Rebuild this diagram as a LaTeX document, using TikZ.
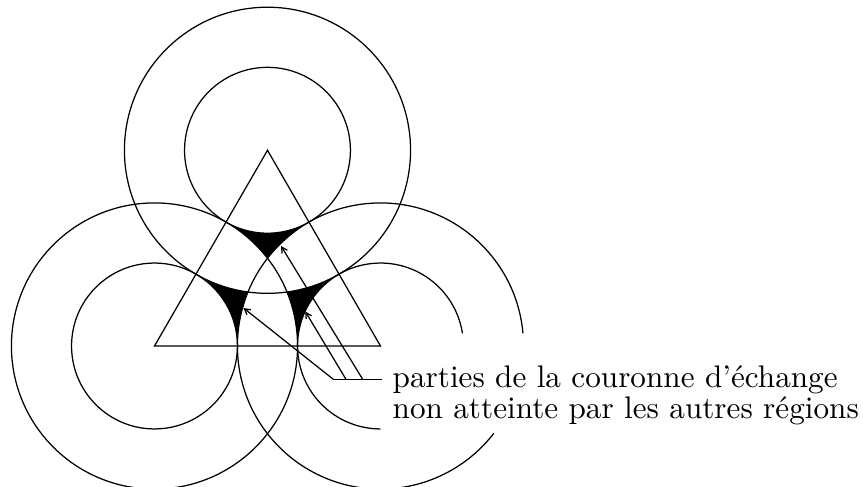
\documentclass[tikz,border=0pt]{standalone}
\usepackage{tikz}
\usetikzlibrary{arrows.meta,calc}

\newcommand\rinner{0.367}
\newcommand\router{0.633}

\begin{document}
\begin{tikzpicture}[x=2.546cm,y=2.546cm,line width=0.4pt,>={Straight Barb[length=1.8pt,width=2pt]},
  zone/.style={fill=black},
  lead/.style={->},
  legend/.style={anchor=north west,align=left,font=\fontsize{10}{9.9}\selectfont}]
  \useasboundingbox (-0.6836,-0.6195) rectangle (3.1350,1.5310);
  \coordinate (bl) at (0,0);
  \coordinate (br) at (1,0);
  \coordinate (t) at (60:1);
  % parties non atteintes
  \fill[zone] ($(t)+(240:\rinner)$) arc[start angle=240,end angle=300,radius=\rinner]
    arc[start angle=120,end angle=142.18,radius=\router]
    arc[start angle=37.82,end angle=60,radius=\router] -- cycle;
  \fill[zone] ($(bl)+(0:\rinner)$) arc[start angle=0,end angle=60,radius=\rinner]
    arc[start angle=240,end angle=262.18,radius=\router]
    arc[start angle=157.82,end angle=180,radius=\router] -- cycle;
  \fill[zone] ($(br)+(120:\rinner)$) arc[start angle=120,end angle=180,radius=\rinner]
    arc[start angle=0,end angle=22.18,radius=\router]
    arc[start angle=277.82,end angle=300,radius=\router] -- cycle;
  % couronnes
  \draw (t) circle[radius=\rinner] (t) circle[radius=\router];
  \draw (bl) circle[radius=\rinner] (bl) circle[radius=\router];
  \draw ($(br)+(8.8:\rinner)$) arc[start angle=8.8,end angle=270,radius=\rinner];
  \draw ($(br)+(5.1:\router)$) arc[start angle=5.1,end angle=322.4,radius=\router];
  % triangle
  \draw (bl) -- (br) -- (t) -- cycle;
  % legende
  \node[legend] (lbl) at (1.0053,-0.0398)
    {parties de la couronne d’échange\\ non atteinte par les autres régions};
  \coordinate (h0) at (0.7912,-0.1473);
  \coordinate (h1) at (0.8473,-0.1473);
  \coordinate (h2) at (0.9212,-0.1473);
  \coordinate (h3) at (lbl.north west |- h0);
  \coordinate (a1) at (0.3938,0.1681);
  \coordinate (a2) at (0.6673,0.1527);
  \coordinate (a3) at (0.560,0.4425);
  \draw (h0) -- (h3);
  \draw[lead] (h0) -- (a1);
  \draw[lead] (h1) -- (a2);
  \draw[lead] (h2) -- (a3);
\end{tikzpicture}
\end{document}
